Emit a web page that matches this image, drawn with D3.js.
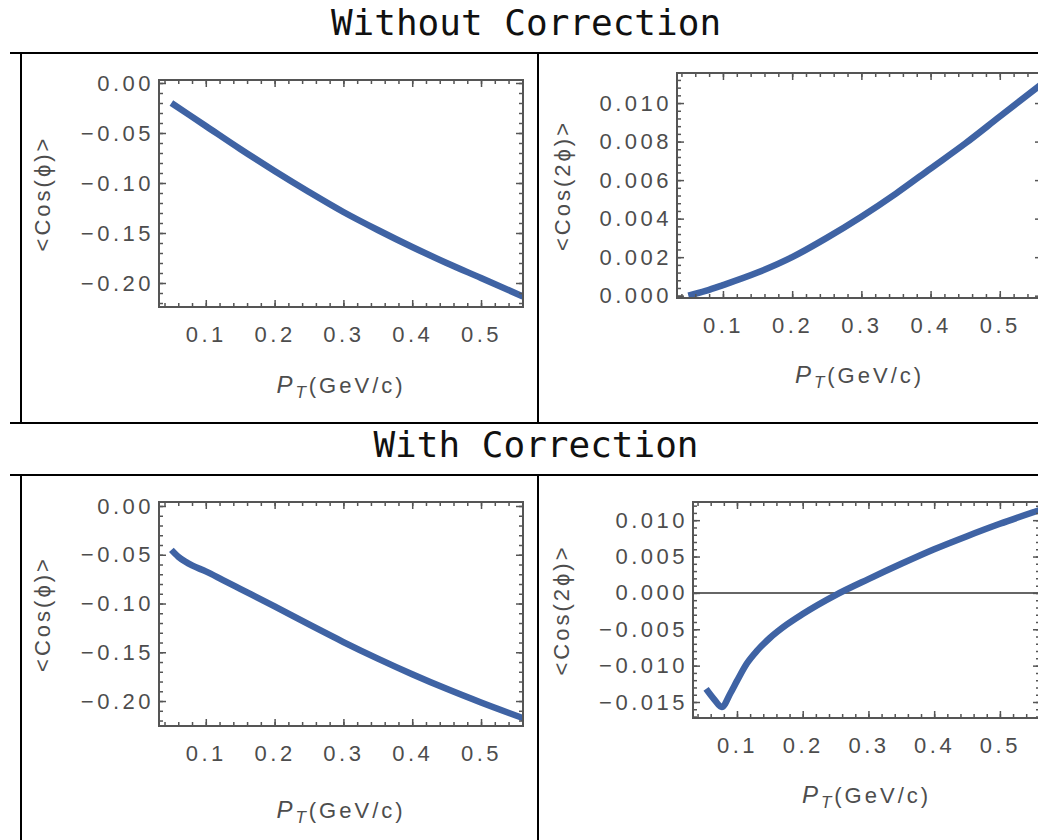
<!DOCTYPE html>
<html>
<head>
<meta charset="utf-8">
<script src="https://cdn.jsdelivr.net/npm/d3@7"></script>
<style>
  body { margin: 0; background: #fff; }
  .tick text { font-family: "Liberation Sans", Arial, sans-serif; font-size: 22px; letter-spacing: 3.5px; fill: #4d4d4d; }
  .lbl { font-family: "Liberation Sans", Arial, sans-serif; font-size: 22px; fill: #4d4d4d; }
  .title { font-family: "DejaVu Sans Mono", monospace; font-size: 36px; fill: #111; }
</style>
</head>
<body>
<script>
// values
let ptNoCorr1 = [0.05, 0.10, 0.15, 0.20, 0.25, 0.30, 0.35, 0.40, 0.45, 0.50, 0.561];
let cosNoCorr = [-0.020, -0.043, -0.066, -0.088, -0.109, -0.129, -0.147, -0.164, -0.180, -0.195, -0.2135];

let ptNoCorr2 = [0.05, 0.075, 0.10, 0.15, 0.20, 0.25, 0.30, 0.35, 0.40, 0.45, 0.50, 0.561];
let cos2NoCorr = [0.0000, 0.00025, 0.00055, 0.0012, 0.0020, 0.0030, 0.0041, 0.0053, 0.0066, 0.0079, 0.0093, 0.0110];

let ptCorr1 = [0.05, 0.06, 0.07, 0.08, 0.10, 0.125, 0.15, 0.20, 0.25, 0.30, 0.35, 0.40, 0.45, 0.50, 0.561];
let cosCorr = [-0.045, -0.052, -0.057, -0.061, -0.067, -0.076, -0.085, -0.103, -0.1215, -0.1395, -0.1565, -0.1725, -0.1875, -0.2015, -0.2175];

let ptCorr2 = [0.053, 0.065, 0.077, 0.09, 0.10, 0.115, 0.13, 0.15, 0.175, 0.20, 0.25, 0.30, 0.35, 0.40, 0.45, 0.50, 0.561];
let cos2Corr = [-0.0132, -0.0146, -0.0157, -0.0138, -0.0121, -0.0097, -0.0080, -0.0062, -0.0044, -0.0029, -0.0003, 0.0019, 0.0040, 0.0060, 0.0078, 0.0095, 0.0114];

let xTicks = [0.1, 0.2, 0.3, 0.4, 0.5];
let yTicksCos = [0, -0.05, -0.10, -0.15, -0.20];
let yTicksCos2 = [0, 0.002, 0.004, 0.006, 0.008, 0.010];
let yTicksCos2Corr = [-0.015, -0.010, -0.005, 0, 0.005, 0.010];

let titles = ['Without Correction', 'With Correction'];

let width = 1038, height = 840;
let lineColor = '#3f63a4';

let svg = d3.select('body').append('svg')
    .attr('width', width)
    .attr('height', height);

// titles + table rules
svg.append('text').attr('class', 'title')
    .attr('x', 526).attr('y', 35).attr('text-anchor', 'middle')
    .text(titles[0]);
svg.append('text').attr('class', 'title')
    .attr('x', 536).attr('y', 457).attr('text-anchor', 'middle')
    .text(titles[1]);

let rules = svg.append('g').attr('stroke', '#000').attr('stroke-width', 2);
[53, 423, 475].forEach(function(y){
  rules.append('line').attr('x1', 10).attr('x2', width).attr('y1', y).attr('y2', y);
});
[[53, 423], [475, height]].forEach(function(r){
  rules.append('line').attr('x1', 21).attr('x2', 21).attr('y1', r[0]).attr('y2', r[1]);
  rules.append('line').attr('x1', 538).attr('x2', 538).attr('y1', r[0]).attr('y2', r[1]);
});

let panels = [
  { pt: ptNoCorr1, val: cosNoCorr, box: [159, 523, 80, 307], xd: [0.032, 0.561], yd: [-0.224, 0.003],
    yt: yTicksCos, ystep: 0.01, fmt: '.2f', ylab: '<Cos(ϕ)>', ylx: 50, xly: 393 },
  { pt: ptNoCorr2, val: cos2NoCorr, box: [677, 1042, 73, 298], xd: [0.0336, 0.561], yd: [-0.00012, 0.01156],
    yt: yTicksCos2, ystep: 0.0004, fmt: '.3f', ylab: '<Cos(2ϕ)>', ylx: 570, xly: 383 },
  { pt: ptCorr1, val: cosCorr, box: [159, 523, 502, 726], xd: [0.032, 0.561], yd: [-0.2256, 0.0041],
    yt: yTicksCos, ystep: 0.01, fmt: '.2f', ylab: '<Cos(ϕ)>', ylx: 50, xly: 818 },
  { pt: ptCorr2, val: cos2Corr, box: [693, 1040, 502, 718], xd: [0.0331, 0.561], yd: [-0.0172, 0.0125],
    yt: yTicksCos2Corr, ystep: 0.001, fmt: '.3f', ylab: '<Cos(2ϕ)>', ylx: 569, xly: 803, zero: true }
];

function minor(d, step) {
  let out = [];
  let k0 = Math.ceil(d[0] / step - 1e-6), k1 = Math.floor(d[1] / step + 1e-6);
  for (let k = k0; k <= k1; k++) out.push(+(k * step).toFixed(6));
  return out;
}

panels.forEach(function(p, i){
  let x = d3.scaleLinear().domain(p.xd).range([p.box[0], p.box[1]]);
  let y = d3.scaleLinear().domain(p.yd).range([p.box[3], p.box[2]]);
  let g = svg.append('g');

  let clipId = 'clip' + i;
  g.append('clipPath').attr('id', clipId).append('rect')
    .attr('x', p.box[0]).attr('y', p.box[2])
    .attr('width', p.box[1] - p.box[0]).attr('height', p.box[3] - p.box[2]);

  if (p.zero) {
    g.append('line')
      .attr('x1', p.box[0]).attr('x2', p.box[1])
      .attr('y1', y(0)).attr('y2', y(0))
      .attr('stroke', '#333').attr('stroke-width', 1.5);
  }

  // the curve
  let line = d3.line()
    .x(function(d){ return x(d[0]); })
    .y(function(d){ return y(d[1]); })
    .curve(d3.curveMonotoneX);
  g.append('path')
    .datum(d3.zip(p.pt, p.val))
    .attr('clip-path', 'url(#' + clipId + ')')
    .attr('fill', 'none')
    .attr('stroke', lineColor)
    .attr('stroke-width', 6.5)
    .attr('stroke-linejoin', 'round')
    .attr('d', line);

  let xMinor = minor(p.xd, 0.02);
  let yMinor = minor(p.yd, p.ystep);

  // minor ticks, all four sides, pointing in
  let h = p.box[3] - p.box[2], w = p.box[1] - p.box[0];
  g.append('g').attr('transform', 'translate(0,' + p.box[3] + ')')
    .call(d3.axisBottom(x).tickValues(xMinor).tickSize(-4).tickFormat(''));
  g.append('g').attr('transform', 'translate(0,' + p.box[2] + ')')
    .call(d3.axisTop(x).tickValues(xMinor).tickSize(-4).tickFormat(''));
  g.append('g').attr('transform', 'translate(' + p.box[0] + ',0)')
    .call(d3.axisLeft(y).tickValues(yMinor).tickSize(-4).tickFormat(''));
  g.append('g').attr('transform', 'translate(' + p.box[1] + ',0)')
    .call(d3.axisRight(y).tickValues(yMinor).tickSize(-4).tickFormat(''));

  // major ticks + labels
  g.append('g').attr('transform', 'translate(0,' + p.box[3] + ')')
    .call(d3.axisBottom(x).tickValues(xTicks).tickSize(-7).tickPadding(19).tickFormat(d3.format('.1f')));
  g.append('g').attr('transform', 'translate(0,' + p.box[2] + ')')
    .call(d3.axisTop(x).tickValues(xTicks).tickSize(-7).tickFormat(''));
  g.append('g').attr('transform', 'translate(' + p.box[0] + ',0)')
    .call(d3.axisLeft(y).tickValues(p.yt).tickSize(-7).tickPadding(5).tickFormat(d3.format(p.fmt)));
  g.append('g').attr('transform', 'translate(' + p.box[1] + ',0)')
    .call(d3.axisRight(y).tickValues(p.yt).tickSize(-7).tickFormat(''));

  g.selectAll('.domain').remove();
  g.selectAll('.tick line').attr('stroke', '#555').attr('stroke-width', 1.5);

  // frame
  g.append('rect')
    .attr('x', p.box[0]).attr('y', p.box[2])
    .attr('width', w).attr('height', h)
    .attr('fill', 'none').attr('stroke', '#555').attr('stroke-width', 2);

  // axis labels
  g.append('text').attr('class', 'lbl')
    .attr('transform', 'translate(' + p.ylx + ',' + ((p.box[2] + p.box[3]) / 2) + ') rotate(-90)')
    .attr('text-anchor', 'middle')
    .style('letter-spacing', '3px')
    .text(p.ylab);

  let xl = g.append('text').attr('class', 'lbl')
    .attr('x', (p.box[0] + p.box[1]) / 2).attr('y', p.xly)
    .attr('text-anchor', 'middle')
    .style('letter-spacing', '3px');
  xl.append('tspan').attr('font-style', 'italic').attr('font-size', '24px').text('P');
  xl.append('tspan').attr('font-style', 'italic').attr('font-size', '17px').attr('dy', 5).text('T');
  xl.append('tspan').attr('dy', -5).text('(GeV/c)');
});
</script>
</body>
</html>
